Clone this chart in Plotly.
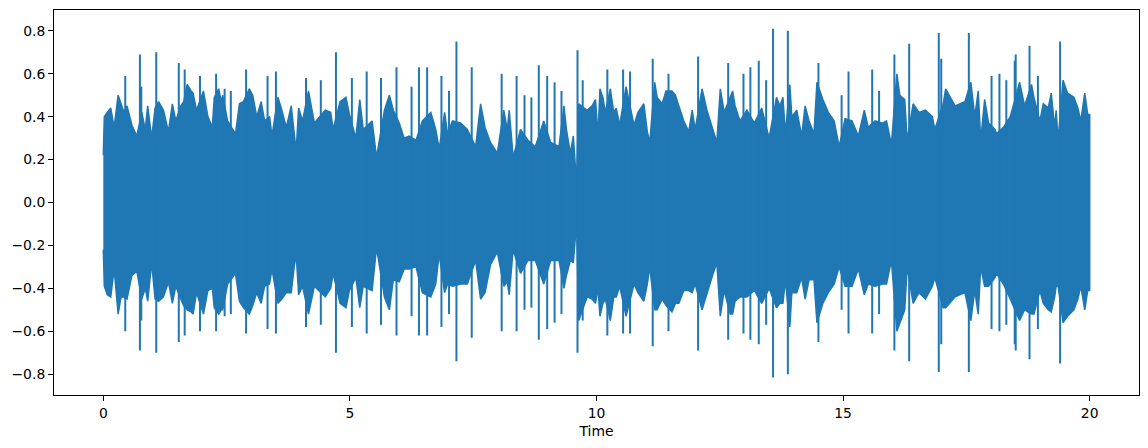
import plotly.graph_objects as go

# ---- waveform envelope (time in s, upper / lower amplitude) ----
env_t = [0.00, 0.02, 0.08, 0.15, 0.22, 0.30, 0.36, 0.42, 0.48, 0.58, 0.68, 0.78, 0.85, 0.90, 0.98,
         1.05, 1.12, 1.22, 1.32, 1.40, 1.47, 1.57, 1.63, 1.70, 1.78, 1.82, 1.89,
         2.03, 2.12, 2.21, 2.25, 2.34, 2.39, 2.42, 2.52, 2.68, 2.76, 2.84, 2.96, 3.03, 3.11,
         3.20, 3.27, 3.37, 3.42, 3.54, 3.62, 3.71, 3.81, 3.87, 3.91,
         3.96, 4.04, 4.16, 4.28, 4.50, 4.61, 4.66, 4.80, 4.92, 4.99, 5.12, 5.20, 5.27, 5.45,
         5.54, 5.70, 5.80, 5.88, 6.00,
         6.10, 6.20, 6.34, 6.47, 6.64, 6.74, 6.81, 6.92, 6.98, 7.08, 7.25, 7.38, 7.55, 7.65,
         7.74, 7.85, 7.99,
         8.12, 8.19, 8.23, 8.31, 8.46, 8.61, 8.76, 8.93, 9.07, 9.24, 9.34, 9.39, 9.47, 9.53,
         9.58, 9.60, 9.64, 9.81, 9.91, 9.98,
         10.03, 10.07, 10.13, 10.18, 10.28, 10.35, 10.40, 10.47, 10.60, 10.76, 10.84, 10.96,
         11.03, 11.08, 11.18, 11.23, 11.33, 11.41, 11.53, 11.60, 11.67, 11.77, 11.87, 11.94, 12.00,
         12.14, 12.24, 12.34, 12.44, 12.51, 12.59, 12.71, 12.76, 12.81, 12.91, 13.05, 13.20,
         13.35, 13.50, 13.65, 13.72, 13.78, 13.83, 13.92, 13.96, 14.06,
         14.16, 14.23, 14.31, 14.41, 14.47, 14.59, 14.70, 14.82, 14.92, 15.04, 15.18, 15.31,
         15.43, 15.51, 15.65, 15.80, 15.88, 15.98, 16.09,
         16.15, 16.25, 16.30, 16.42, 16.54, 16.67, 16.81, 16.86, 17.03, 17.08, 17.27, 17.47,
         17.59, 17.67, 17.74, 17.79, 17.87, 17.95, 18.08,
         18.11, 18.25, 18.39, 18.58, 18.68, 18.82, 18.87, 18.99, 19.06, 19.16, 19.22, 19.29,
         19.32, 19.36, 19.46, 19.55, 19.68, 19.76, 19.82, 19.90, 19.96, 20.00]
env_hi = [0.22, 0.40, 0.42, 0.44, 0.35, 0.50, 0.46, 0.42, 0.45, 0.36, 0.31, 0.42, 0.34, 0.45, 0.30,
          0.44, 0.47, 0.43, 0.33, 0.46, 0.38, 0.45, 0.47, 0.55, 0.52, 0.51, 0.43,
          0.52, 0.40, 0.35, 0.49, 0.53, 0.47, 0.50, 0.38, 0.32, 0.46, 0.47, 0.53, 0.50, 0.40,
          0.47, 0.38, 0.40, 0.31, 0.49, 0.43, 0.35, 0.45, 0.31, 0.24,
          0.44, 0.38, 0.52, 0.37, 0.43, 0.42, 0.34, 0.47, 0.49, 0.41, 0.30, 0.48, 0.34, 0.38,
          0.21, 0.43, 0.50, 0.43, 0.37,
          0.30, 0.31, 0.29, 0.38, 0.42, 0.34, 0.25, 0.42, 0.32, 0.38, 0.37, 0.34, 0.26, 0.46,
          0.35, 0.28, 0.23,
          0.43, 0.34, 0.43, 0.21, 0.34, 0.29, 0.26, 0.38, 0.28, 0.26, 0.45, 0.34, 0.23, 0.31,
          0.14, 0.14, 0.46, 0.43, 0.45, 0.48,
          0.31, 0.53, 0.49, 0.42, 0.53, 0.42, 0.44, 0.36, 0.54, 0.36, 0.42, 0.46,
          0.33, 0.28, 0.56, 0.49, 0.46, 0.52, 0.52, 0.50, 0.45, 0.38, 0.33, 0.43, 0.34,
          0.53, 0.43, 0.35, 0.28, 0.53, 0.42, 0.49, 0.52, 0.45, 0.38, 0.43, 0.37,
          0.44, 0.30, 0.49, 0.45, 0.49, 0.32, 0.55, 0.40, 0.43,
          0.31, 0.45, 0.38, 0.32, 0.56, 0.48, 0.42, 0.38, 0.26, 0.39, 0.38, 0.31,
          0.43, 0.35, 0.38, 0.37, 0.38, 0.27, 0.60,
          0.50, 0.48, 0.29, 0.46, 0.42, 0.43, 0.40, 0.34, 0.46, 0.53, 0.45, 0.47,
          0.56, 0.40, 0.52, 0.29, 0.48, 0.37, 0.34,
          0.32, 0.35, 0.40, 0.56, 0.45, 0.55, 0.49, 0.38, 0.46, 0.44, 0.51, 0.35,
          0.43, 0.29, 0.57, 0.51, 0.49, 0.44, 0.38, 0.51, 0.41, 0.41]
env_lo = [-0.22, -0.39, -0.43, -0.44, -0.31, -0.52, -0.44, -0.44, -0.45, -0.34, -0.32, -0.45, -0.40, -0.46, -0.28,
          -0.45, -0.46, -0.44, -0.37, -0.47, -0.39, -0.45, -0.48, -0.50, -0.51, -0.52, -0.42,
          -0.52, -0.41, -0.40, -0.49, -0.52, -0.50, -0.50, -0.38, -0.33, -0.46, -0.49, -0.52, -0.48, -0.42,
          -0.47, -0.39, -0.38, -0.31, -0.47, -0.45, -0.42, -0.42, -0.30, -0.24,
          -0.43, -0.39, -0.52, -0.39, -0.44, -0.40, -0.33, -0.47, -0.49, -0.41, -0.35, -0.49, -0.39, -0.41,
          -0.21, -0.44, -0.50, -0.36, -0.37,
          -0.31, -0.31, -0.30, -0.42, -0.44, -0.38, -0.24, -0.42, -0.38, -0.39, -0.38, -0.38, -0.27, -0.45,
          -0.42, -0.29, -0.23,
          -0.39, -0.37, -0.43, -0.22, -0.33, -0.27, -0.27, -0.38, -0.27, -0.27, -0.40, -0.34, -0.27, -0.28,
          -0.14, -0.14, -0.55, -0.44, -0.45, -0.47,
          -0.40, -0.53, -0.47, -0.45, -0.55, -0.44, -0.44, -0.39, -0.53, -0.38, -0.42, -0.46,
          -0.38, -0.30, -0.50, -0.50, -0.45, -0.48, -0.51, -0.47, -0.47, -0.41, -0.41, -0.42, -0.38,
          -0.50, -0.43, -0.35, -0.28, -0.53, -0.41, -0.52, -0.52, -0.46, -0.44, -0.44, -0.41,
          -0.47, -0.40, -0.49, -0.47, -0.47, -0.36, -0.58, -0.42, -0.42,
          -0.35, -0.45, -0.36, -0.36, -0.56, -0.47, -0.42, -0.38, -0.30, -0.39, -0.39, -0.31,
          -0.43, -0.38, -0.39, -0.38, -0.38, -0.27, -0.60,
          -0.56, -0.50, -0.30, -0.47, -0.42, -0.45, -0.39, -0.35, -0.49, -0.49, -0.44, -0.42,
          -0.55, -0.41, -0.52, -0.30, -0.39, -0.39, -0.35,
          -0.33, -0.38, -0.45, -0.55, -0.50, -0.52, -0.52, -0.41, -0.47, -0.50, -0.51, -0.44,
          -0.39, -0.39, -0.56, -0.53, -0.50, -0.45, -0.39, -0.50, -0.41, -0.41]

# ---- transient peaks (time, upper, lower) ----
spike_t = [0.445, 0.742, 0.77, 1.073, 1.53, 1.65, 1.96, 2.287, 2.46, 2.585, 2.895, 3.33, 3.50,
           4.11, 4.41, 4.717, 5.04, 5.34, 5.63, 5.945, 6.25, 6.40, 6.566, 6.856, 7.01, 7.16, 7.47,
           8.077, 8.38, 8.54, 8.68, 8.83, 9.00, 9.15, 9.29, 9.615, 9.72,
           10.22, 10.54, 10.68, 11.14, 11.46, 12.06, 12.67, 12.98, 13.12, 13.29, 13.44, 13.58, 13.88,
           14.50, 14.97, 15.11, 15.59, 15.73, 16.04, 16.34, 16.94, 16.99, 17.55, 18.01, 18.17,
           18.31, 18.48, 18.50, 18.78, 18.95, 19.40]
spike_hi = [0.59, 0.69, 0.54, 0.70, 0.65, 0.62, 0.59, 0.60, 0.53, 0.52, 0.62, 0.59, 0.61,
            0.58, 0.57, 0.70, 0.58, 0.61, 0.58, 0.63, 0.54, 0.63, 0.63, 0.59, 0.52, 0.75, 0.63,
            0.60, 0.59, 0.50, 0.49, 0.64, 0.59, 0.56, 0.52, 0.71, 0.57,
            0.62, 0.62, 0.61, 0.67, 0.60, 0.68, 0.65, 0.60, 0.63, 0.66, 0.57, 0.81, 0.80,
            0.65, 0.50, 0.61, 0.62, 0.52, 0.69, 0.74, 0.79, 0.67, 0.79, 0.59, 0.60,
            0.57, 0.66, 0.69, 0.73, 0.59, 0.75]
spike_lo = [-0.60, -0.69, -0.55, -0.70, -0.65, -0.62, -0.60, -0.60, -0.53, -0.52, -0.61, -0.59, -0.61,
            -0.58, -0.57, -0.70, -0.58, -0.61, -0.57, -0.62, -0.53, -0.62, -0.62, -0.58, -0.52, -0.74, -0.63,
            -0.60, -0.60, -0.50, -0.49, -0.64, -0.59, -0.56, -0.52, -0.70, -0.55,
            -0.62, -0.61, -0.61, -0.67, -0.60, -0.69, -0.64, -0.61, -0.64, -0.66, -0.57, -0.815, -0.80,
            -0.65, -0.50, -0.61, -0.61, -0.52, -0.69, -0.74, -0.79, -0.66, -0.79, -0.59, -0.60,
            -0.57, -0.66, -0.69, -0.73, -0.59, -0.75]

y_ticks = [-0.8, -0.6, -0.4, -0.2, 0.0, 0.2, 0.4, 0.6, 0.8]
x_ticks = [0, 5, 10, 15, 20]

BLUE = "#1f77b4"

fig = go.Figure()

poly_x = list(env_t) + list(reversed(env_t))
poly_y = list(env_hi) + list(reversed(env_lo))
fig.add_trace(go.Scatter(x=poly_x, y=poly_y, mode="lines", fill="toself",
                         fillcolor=BLUE, line=dict(color=BLUE, width=1.5),
                         hoverinfo="skip", showlegend=False))

sx, sy = [], []
for t, hi, lo in zip(spike_t, spike_hi, spike_lo):
    sx += [t, t, None]
    sy += [lo, hi, None]
fig.add_trace(go.Scatter(x=sx, y=sy, mode="lines", line=dict(color=BLUE, width=2),
                         hoverinfo="skip", showlegend=False))

font = dict(family="DejaVu Sans", size=13.9, color="black")
axis_common = dict(showline=True, linecolor="black", linewidth=1, mirror=True,
                   ticks="outside", ticklen=5, tickwidth=1, tickcolor="black",
                   showgrid=False, zeroline=False, tickfont=font, automargin=False)

# the page body adds a small offset, so the figure is sized/margined to compensate
fig.update_layout(
    width=1142, height=440,
    margin=dict(l=46, r=11, t=2, b=53),
    paper_bgcolor="white", plot_bgcolor="white",
    font=font,
    xaxis=dict(range=[-1, 21], tickvals=x_ticks, ticktext=[str(v) for v in x_ticks],
               title=dict(text="Time", font=font, standoff=6), **axis_common),
    yaxis=dict(range=[-0.897, 0.897], tickvals=y_ticks, tickformat=".1f", **axis_common),
)

fig.write_html("out.html")
